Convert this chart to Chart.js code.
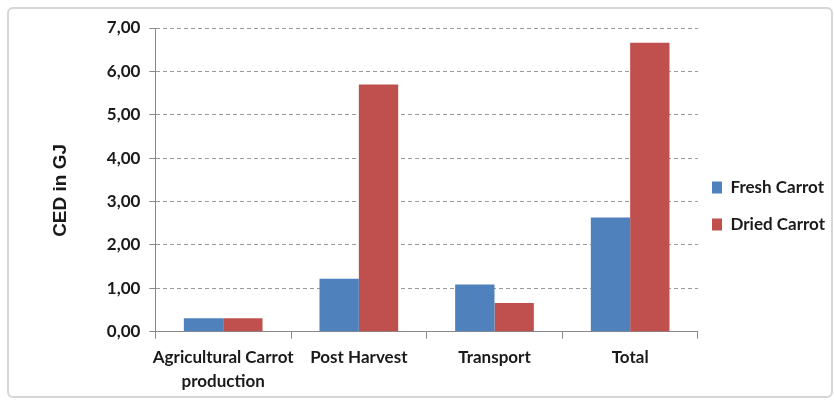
<!DOCTYPE html>
<html>
<head>
<meta charset="utf-8">
<script src="https://cdn.jsdelivr.net/npm/chart.js@4/dist/chart.umd.min.js"></script>
<style>
    html, body { margin: 0; padding: 0; background: #fff; }
    #wrap { position: relative; width: 834px; height: 404px; }
    #frame {
        position: absolute; left: 7px; top: 7px; width: 826px; height: 391px;
        border: 2px solid #d6d6d6; border-radius: 6px; box-sizing: border-box;
    }
    #chart { position: absolute; left: 0; top: 0; }
</style>
</head>
<body>
<div id="wrap">
    <div id="frame"></div>
    <canvas id="chart" width="834" height="404"></canvas>
</div>
<script>
// Kategoriler ve seriler
const categories = [['Agricultural Carrot', 'production'], 'Post Harvest', 'Transport', 'Total'];
const freshCarrot = [0.31, 1.22, 1.09, 2.63];
const driedCarrot = [0.31, 5.70, 0.66, 6.66];
const yTicks = [0, 1, 2, 3, 4, 5, 6, 7];

const textFont = 'Lato';
const textColor = '#1a1a1a';

// Lejantı grafik alanına biraz yaklaştır ve yukarı al
const legendShift = {
    id: 'legendShift',
    afterLayout(chart) {
        const lg = chart.legend;
        const dx = lg.left - (chart.chartArea.right - 6);
        lg.left -= dx;
        lg.right -= dx;
        lg.top -= 8;
        lg.bottom -= 8;
    }
};

new Chart(document.getElementById('chart'), {
    type: 'bar',
    data: {
        labels: categories,
        datasets: [
            { label: 'Fresh Carrot', data: freshCarrot, backgroundColor: '#4f81bd' },
            { label: 'Dried Carrot', data: driedCarrot, backgroundColor: '#c0504d' }
        ]
    },
    options: {
        responsive: false,
        animation: false,
        layout: { padding: { top: 28, bottom: 4, left: 49, right: -7 } },
        datasets: { bar: { categoryPercentage: 0.58, barPercentage: 1 } },
        scales: {
            x: {
                grid: { offset: true, drawOnChartArea: false, color: '#888', tickLength: 7 },
                border: { color: '#888' },
                ticks: {
                    color: textColor, padding: 6, maxRotation: 0, minRotation: 0, autoSkip: false,
                    font: { family: textFont, size: 17, weight: 'bold', lineHeight: 1.45 }
                }
            },
            y: {
                min: 0, max: 7,
                afterBuildTicks: axis => { axis.ticks = yTicks.map(v => ({ value: v })); },
                grid: { color: '#9a9a9a', tickColor: '#888', tickLength: 6 },
                border: { color: '#888', dash: [4, 3] },
                ticks: {
                    color: textColor, padding: 9,
                    font: { family: textFont, size: 17, weight: 'bold' },
                    callback: v => v.toFixed(2).replace('.', ',')
                },
                title: {
                    display: true, text: 'CED in GJ    ', color: textColor,
                    padding: { top: 0, bottom: 26 },
                    font: { family: 'Liberation Sans', size: 19, weight: 'bold' }
                }
            }
        },
        plugins: {
            legend: {
                position: 'right',
                labels: {
                    boxWidth: 10, boxHeight: 12, padding: 20, color: textColor,
                    font: { family: textFont, size: 17, weight: 'bold' }
                }
            },
            tooltip: { enabled: false }
        }
    },
    plugins: [legendShift]
});
</script>
</body>
</html>
